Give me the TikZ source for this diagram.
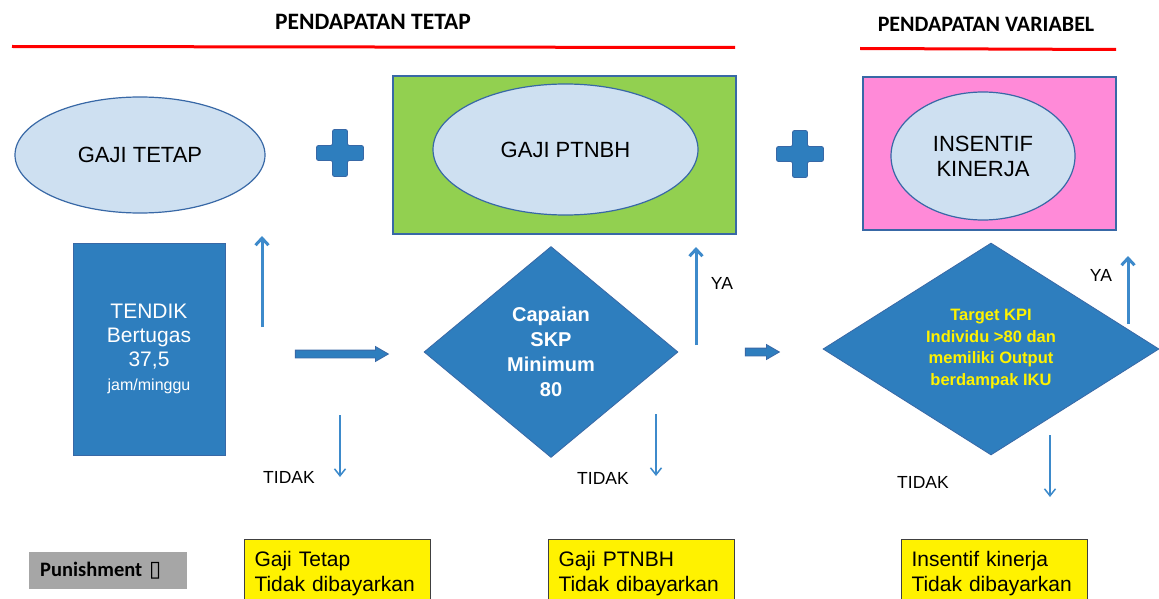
\documentclass[tikz,border=0pt]{standalone}
\usepackage{fontspec}
\setmainfont{Liberation Sans}
\newfontfamily\calibri{Carlito}
\newfontfamily\dejavu{DejaVu Sans}
\usetikzlibrary{shapes.geometric,shapes.arrows,arrows.meta}

\definecolor{boxblue}{RGB}{46,126,190}
\definecolor{lineblue}{RGB}{61,138,203}
\definecolor{edgeblue}{RGB}{56,104,166}
\definecolor{ovalfill}{RGB}{206,224,241}
\definecolor{panelgreen}{RGB}{146,208,80}
\definecolor{panelpink}{RGB}{255,138,216}
\definecolor{notegray}{RGB}{166,166,166}

\tikzset{
  heading/.style={font=\calibri\bfseries\fontsize{22}{26}\selectfont},
  redrule/.style={red, line width=3pt},
  oval/.style={ellipse, draw=edgeblue, fill=ovalfill, line width=1.2pt, inner sep=0pt, align=center, font=\fontsize{22}{25}\selectfont},
  panel/.style={rectangle, draw=edgeblue, line width=1.2pt, inner sep=0pt},
  decision/.style={diamond, fill=boxblue, draw=edgeblue, line width=0.8pt, inner sep=0pt, align=center},
  yesno/.style={font=\fontsize{17.5}{20}\selectfont},
  upflow/.style={lineblue, line width=3pt, -{Straight Barb[length=7pt,width=13pt]}},
  downflow/.style={lineblue, line width=1.5pt, -{Straight Barb[length=7pt,width=11pt]}},
  fatarrow/.style={single arrow, fill=boxblue, draw=edgeblue, line width=0.8pt, inner xsep=0pt, inner ysep=3.5pt, single arrow head extend=3.5pt, single arrow head indent=0pt, single arrow tip angle=60},
  note/.style={rectangle, fill=yellow, draw=black!75, line width=1pt, anchor=north west, align=left, inner xsep=10pt, inner ysep=12pt, text width=166pt, font=\fontsize{21}{25}\selectfont},
  plusblock/.style={fill=boxblue, draw=edgeblue, line width=0.8pt, rounded corners=2pt}
}

\begin{document}
\begin{tikzpicture}[x=1pt, y=-1pt]
  \useasboundingbox (0,0) rectangle (1159,599);
  \fill[white] (0,0) rectangle (1159,599);

  % headings
  \node[heading, font=\calibri\bfseries\fontsize{23.5}{26}\selectfont] (fixtitle) at (373,22) {PENDAPATAN TETAP};
  \node[heading] (vartitle) at (986,24) {PENDAPATAN VARIABEL};
  \draw[redrule] (12,46.5) -- (735,47.5);
  \draw[redrule] (860,48.5) -- (1116,49.5);

  % income components
  \node[oval, minimum width=250pt, minimum height=116pt] (tetap) at (140,155) {GAJI TETAP};
  \node[panel, fill=panelgreen, minimum width=343pt, minimum height=158pt] (fixpanel) at (564.5,155) {};
  \node[oval, minimum width=265pt, minimum height=131pt] (ptnbh) at (565.5,149.5) {GAJI PTNBH};
  \node[panel, fill=panelpink, minimum width=253pt, minimum height=153pt] (varpanel) at (989.5,153.5) {};
  \node[oval, minimum width=184pt, minimum height=128pt] (insentif) at (983,156) {INSENTIF\\KINERJA};

  \foreach \x/\y in {340/153, 800/154}
    \draw[plusblock] (\x,\y) ++(-7.5,-23.5) -- ++(15,0) -- ++(0,16) -- ++(16,0) -- ++(0,15)
      -- ++(-16,0) -- ++(0,16) -- ++(-15,0) -- ++(0,-16) -- ++(-16,0) -- ++(0,-15) -- ++(16,0) -- cycle;

  % flow
  \node[rectangle, fill=boxblue, draw=edgeblue, line width=0.8pt, minimum width=152pt, minimum height=212pt,
        text=white, align=center, font=\fontsize{21}{24}\selectfont] (tendik) at (149,349)
        {TENDIK\\Bertugas\\37,5\\{\fontsize{16}{19}\selectfont jam/minggu}};
  \node[decision, minimum width=254pt, minimum height=211pt, text=white,
        font=\bfseries\fontsize{20}{25}\selectfont] (skp) at (551,352) {Capaian\\SKP\\Minimum\\80};
  \node[decision, minimum width=336pt, minimum height=212pt, text=yellow,
        font=\bfseries\fontsize{16.5}{21.7}\selectfont] (kpi) at (991,349)
        {Target KPI\\Individu >80 dan\\memiliki Output\\berdampak IKU};

  \node[fatarrow, minimum height=93pt] (toskp) at (338.5,354) {};
  \node[fatarrow, minimum height=34pt] (tokpi) at (759,352) {};

  \coordinate (up1a) at (262,327);  \coordinate (up1b) at (262,236);
  \coordinate (up2a) at (696,345);  \coordinate (up2b) at (696,247);
  \coordinate (up3a) at (1128,324); \coordinate (up3b) at (1128,256);
  \coordinate (dn1a) at (340,415);  \coordinate (dn1b) at (340,477);
  \coordinate (dn2a) at (656,414);  \coordinate (dn2b) at (656,476);
  \coordinate (dn3a) at (1050,435); \coordinate (dn3b) at (1050,497);

  \draw[upflow] (up1a) -- (up1b);
  \draw[upflow] (up2a) -- (up2b);
  \draw[upflow] (up3a) -- (up3b);
  \draw[downflow] (dn1a) -- (dn1b);
  \draw[downflow] (dn2a) -- (dn2b);
  \draw[downflow] (dn3a) -- (dn3b);

  \node[yesno] (ya1) at (722,283) {YA};
  \node[yesno] (ya2) at (1101,275) {YA};
  \node[yesno] (tidak1) at (289,477) {TIDAK};
  \node[yesno] (tidak2) at (603,478) {TIDAK};
  \node[yesno] (tidak3) at (923,482) {TIDAK};

  % punishment
  \node[rectangle, fill=notegray, minimum height=37pt, text width=136pt, inner xsep=11pt, align=left,
        anchor=west, font=\calibri\bfseries\fontsize{20.5}{24}\selectfont] (punish) at (29,570.5)
        {Punishment {\dejavu\mdseries\fontsize{22}{24}\selectfont ▯}};
  \node[note] (notetetap) at (244,539) {Gaji Tetap\\Tidak dibayarkan};
  \node[note] (noteptnbh) at (548,539) {Gaji PTNBH\\Tidak dibayarkan};
  \node[note] (noteinsentif) at (901,539) {Insentif kinerja\\Tidak dibayarkan};
\end{tikzpicture}
\end{document}
